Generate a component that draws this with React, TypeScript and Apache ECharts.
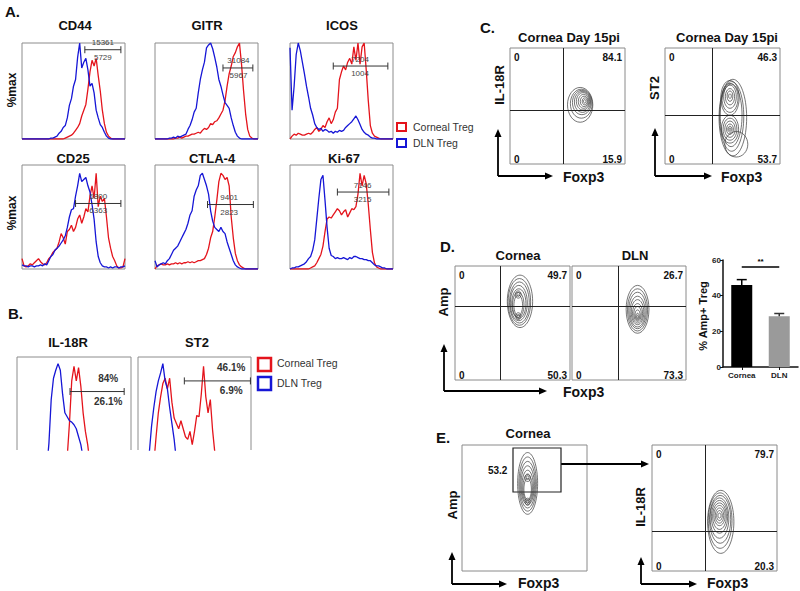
import React, { useEffect, useRef } from "react";
import * as echarts from "echarts";

// ---------- DATA ----------
const bins = [0,2,4,6,8,10,12,14,16,18,20,22,24,26,28,30,32,34,36,38,40,42,44,46,48,50,52,54,56,58,60,62,64,66,68,70,72,74,76,78,80,82,84,86,88,90,92,94,96,98,100];

// Panel A histograms (% of max)
const cd44Corneal = [0,0,0,0,0,0,0,0,0,0,0,0,0,0,0,0,0,0,0,0,0,1,2,3,4,6,9,12,16,24,30,36,52,70,82,76,84,66,50,30,16,7,3,1,0,0,0,0,0,0,0];
const cd44DLN = [0,0,0,0,0,0,0,0,0,0,0,0,0,0,1,1,2,3,6,8,12,14,22,35,42,55,62,85,100,74,80,84,72,55,58,48,30,22,15,12,7,3,1,0,0,0,0,0,0,0,0];
const gitrCorneal = [0,0,0,0,0,0,0,0,0,0,1,1,2,1,2,3,3,4,5,5,6,7,6,9,11,10,12,16,15,18,19,22,26,30,40,55,68,76,86,90,96,100,78,50,26,10,3,1,0,0,0];
const gitrDLN = [0,0,0,0,0,0,0,1,1,2,1,3,2,3,4,5,10,14,20,28,32,48,62,72,80,95,98,100,94,85,75,62,55,46,38,35,32,22,14,7,3,1,0,0,0,0,0,0,0,0,0];
const icosCorneal = [0,3,5,4,6,5,4,4,5,6,5,7,10,12,8,10,14,12,18,22,16,20,28,32,62,70,76,72,80,84,78,96,82,100,78,96,100,72,40,14,6,3,2,1,0,0,0,0,0,0,0];
const icosDLN = [95,30,55,88,100,92,80,68,55,44,32,25,16,12,10,11,8,10,9,7,8,6,8,7,9,8,9,12,14,16,18,21,24,20,15,10,7,5,4,2,1,1,0,0,0,0,0,0,0,0,0];
const cd25Corneal = [10,3,2,3,5,4,6,8,10,7,5,4,6,10,12,16,18,20,26,34,30,24,36,38,42,36,40,48,52,44,50,58,55,70,80,68,92,60,70,65,68,50,30,20,12,8,3,1,1,2,10];
const cd25DLN = [4,3,3,2,3,3,2,3,3,4,3,5,4,8,12,14,18,20,22,25,28,32,40,50,57,58,70,80,92,84,86,88,80,74,62,48,26,12,6,3,2,2,1,2,1,2,2,1,2,2,3];
const ctla4Corneal = [0,3,4,5,4,4,5,4,5,5,6,5,6,5,6,6,7,6,7,6,7,8,8,9,10,14,20,30,36,50,66,84,92,90,86,88,80,50,30,15,8,4,2,1,0,0,0,0,0,0,0];
const ctla4DLN = [8,2,4,5,6,5,8,10,14,18,20,22,26,30,34,38,44,52,56,70,76,80,90,92,86,80,72,56,46,40,38,36,40,36,34,26,20,14,8,4,2,1,0,0,0,0,0,0,0,0,0];
const ki67Corneal = [0,0,0,0,0,0,0,0,0,0,1,2,3,6,10,14,22,36,48,50,49,52,55,58,56,52,55,57,50,54,58,57,60,72,92,80,90,82,62,38,16,6,2,1,0,0,0,0,0,0,0];
const ki67DLN = [0,1,1,2,2,3,4,5,7,10,12,18,28,48,68,86,90,66,40,20,13,12,10,11,10,10,11,10,9,11,10,12,12,11,10,10,9,9,8,8,6,4,3,3,2,1,1,0,0,0,0];

// Panel B histograms
const il18rCorneal = [0,0,0,0,0,0,0,0,0,0,0,0,0,0,0,0,0,0,0,0,0,10,24,50,82,93,82,92,78,58,44,34,20,6,0,0,0,0,0,0,0,0,0,0,0,0,0,0,0,0,0];
const il18rDLN = [0,0,0,0,0,0,0,0,0,0,0,0,0,15,35,68,84,90,95,90,72,58,55,52,51,49,46,40,34,24,12,4,0,0,0,0,0,0,0,0,0,0,0,0,0,0,0,0,0,0,0];
const st2Corneal = [0,0,0,0,0,0,0,20,40,58,70,80,84,76,84,66,54,50,46,52,46,40,38,44,34,44,56,55,72,93,70,58,68,45,28,12,0,0,0,0,0,0,0,0,0,0,0,0,0,0,0];
const st2DLN = [0,0,0,0,12,28,48,62,74,82,88,95,82,76,62,50,38,22,8,0,0,0,0,0,0,0,0,0,0,0,0,0,0,0,0,0,0,0,0,0,0,0,0,0,0,0,0,0,0,0,0];

// Gates: [start, end, level, label position]
const cd44Gate = [61, 96, 93, 78.5];
const gitrGate = [66, 95, 74, 81];
const icosGate = [42, 95, 76, 68];
const cd25Gate = [52, 96, 63, 74];
const ctla4Gate = [51, 95.5, 62, 72];
const ki67Gate = [46, 96, 74, 70.5];
const il18rGate = [46.5, 94, 74, 80];
const st2Gate = [41, 99.5, 82, 82.5];

const cd44Labels = ["15361", "5729"];
const gitrLabels = ["31084", "5967"];
const icosLabels = ["7204", "1004"];
const cd25Labels = ["6800", "6363"];
const ctla4Labels = ["9401", "2823"];
const ki67Labels = ["7146", "3215"];
const il18rLabels = ["84%", "26.1%"];
const st2Labels = ["46.1%", "6.9%"];

// Contour levels: [centerX, centerY, radiusX, radiusY]
const contourC1 = [[61,51,11,15],[62,52,9.5,12.5],[62.5,53,8.2,10.5],[63,53.5,7,9],[63.5,54,5.8,7.5],[64,54,4.6,6],[64.5,54,3.4,4.5],[65,54,2.2,3],[65,54,1.1,1.5]];
const contourC2 = [[59,40,12,33],[58,41,10.5,30],[57.5,42,9.5,27],[56.5,57,8,15],[56.5,57,7,12.5],[56.5,58,5.5,10],[56.5,58,4,7],[56.5,58.5,2.5,4.5],[56.5,58.5,1.2,2],[56.5,30,7.5,12],[56.5,30,6,9.5],[56.5,30,4.5,7],[56.5,30,3,4.5],[56.5,30,1.8,2.5],[56.5,30,0.9,1.2],[62,17,10,11]];
const contourDCornea = [[56.5,69,11,23],[56,68.5,9.8,20.5],[56,68,8.6,18],[55.5,67.5,7.4,15.5],[55.5,67,6.2,13],[55,66,5,11],[55,65.5,3.8,9],[55,75,2.5,3.2],[55,75,1.3,1.7],[55,56,2.3,3],[55,56,1.2,1.5]];
const contourDDLN = [[57.5,62,10,21],[57.5,61.5,8.8,18.5],[57.5,61,7.7,16],[57.5,60,6.6,13.5],[57.5,59.5,5.5,11],[57.5,58.5,4.4,8.5],[57.5,58,3.3,6.5],[57.5,57,2.3,4.5],[57.5,56,1.4,2.6],[57.5,55.5,0.7,1.3]];
const contourECornea = [[52.5,69.5,8,24.5],[52.5,69,7,21.5],[52.5,68.5,6.2,18.5],[52.5,68,5.4,15.5],[52.5,67,4.6,13],[52.5,66,3.8,10.5],[52.5,65,3,8.5],[52.5,74,2.2,3],[52.5,74,1.1,1.5],[52.5,55,2,2.8],[52.5,55,1,1.3]];
const contourEIL18R = [[55,39,10.5,25],[54.5,40,9.5,22],[54.5,41,8.5,19],[54,42,7.5,16],[54,43,6.5,13],[54,43.5,5.5,10.5],[54,44,4.5,8],[54,44,3.4,6],[54,44,2.3,4],[54,44,1.2,2]];

// Quadrant gates [x, y]
const quadC1 = [46, 46];
const quadC2 = [41, 42];
const quadDCornea = [39, 65];
const quadDDLN = [40.5, 65];
const quadEIL18R = [42.4, 31.7];
const gateECornea = [40.8, 62.7, 79.2, 97.6];
const gateECorneaLabel = "53.2";

// Quadrant percentages [UL, UR, LL, LR]
const pctC1 = ["0", "84.1", "0", "15.9"];
const pctC2 = ["0", "46.3", "0", "53.7"];
const pctDCornea = ["0", "49.7", "0", "50.3"];
const pctDDLN = ["0", "26.7", "0", "73.3"];
const pctEIL18R = ["0", "79.7", "0", "20.3"];

// Bar chart
const barCategories = ["Cornea", "DLN"];
const barValues = [46, 28.5];
const barErrors = [3, 1.5];
const barSigLevel = 56;
const barTicks = [0, 20, 40, 60];

// ---------- STYLE ----------
const RED = "#e4141c";
const BLUE = "#1616d6";
const FF = '"Liberation Sans", Arial, sans-serif';
const font = (size: number, bold = true) => `${bold ? "bold " : ""}${size}px ${FF}`;

type Rect = { left: number; top: number; width: number; height: number };

function txt(text: string, x: number, y: number, size: number, opts: any = {}) {
  const align = opts.align || "center";
  return {
    type: "text",
    x,
    y,
    rotation: opts.rot ? Math.PI / 2 : 0,
    silent: true,
    style: {
      text,
      font: font(size, opts.bold !== false),
      fill: opts.color || "#111",
      align,
      verticalAlign: "middle",
      textAlign: align,
      textVerticalAlign: "middle",
    },
  };
}

function arrowUp(x: number, y0: number, y1: number) {
  return [
    { type: "line", silent: true, shape: { x1: x, y1: y0, x2: x, y2: y1 + 6 }, style: { stroke: "#000", lineWidth: 1.8 } },
    { type: "polygon", silent: true, shape: { points: [[x, y1], [x - 3.5, y1 + 8], [x + 3.5, y1 + 8]] }, style: { fill: "#000" } },
  ];
}
function arrowRight(y: number, x0: number, x1: number) {
  return [
    { type: "line", silent: true, shape: { x1: x0, y1: y, x2: x1 - 6, y2: y }, style: { stroke: "#000", lineWidth: 1.8 } },
    { type: "polygon", silent: true, shape: { points: [[x1, y], [x1 - 8, y - 3.5], [x1 - 8, y + 3.5]] }, style: { fill: "#000" } },
  ];
}

function buildOption() {
  const grids: any[] = [];
  const xAxes: any[] = [];
  const yAxes: any[] = [];
  const series: any[] = [];
  const graphics: any[] = [];

  const addGrid = (r: Rect, show: boolean, border: string, ymin = 0) => {
    const i = grids.length;
    grids.push({ ...r, show, borderColor: border, borderWidth: 1, backgroundColor: "transparent" });
    xAxes.push({ gridIndex: i, type: "value", min: 0, max: 100, show: false });
    yAxes.push({ gridIndex: i, type: "value", min: ymin, max: 100, show: false });
    return i;
  };

  const gateRender = (labels: string[], up: number, down: number, f: string, color: string) =>
    (params: any, api: any) => {
      const y = api.value(2);
      const a = api.coord([api.value(0), y]);
      const b = api.coord([api.value(1), y]);
      const c = api.coord([api.value(3), y]);
      const ls = { stroke: "#333", lineWidth: 1 };
      const ts = (t: string) => ({ text: t, font: f, fill: color, align: "center", verticalAlign: "middle", textAlign: "center", textVerticalAlign: "middle" });
      return {
        type: "group",
        children: [
          { type: "line", shape: { x1: a[0], y1: a[1], x2: b[0], y2: b[1] }, style: ls },
          { type: "line", shape: { x1: a[0], y1: a[1] - 3.5, x2: a[0], y2: a[1] + 3.5 }, style: ls },
          { type: "line", shape: { x1: b[0], y1: b[1] - 3.5, x2: b[0], y2: b[1] + 3.5 }, style: ls },
          { type: "text", x: c[0], y: c[1] - up, style: ts(labels[0]) },
          { type: "text", x: c[0], y: c[1] + down, style: ts(labels[1]) },
        ],
      };
    };

  const addHist = (r: Rect, corneal: number[], dln: number[], gate: number[], labels: string[], small: boolean, ymin = 0) => {
    const i = addGrid(r, ymin === 0, "#8c8c8c", ymin);
    const mk = (arr: number[], color: string) => ({
      type: "line", xAxisIndex: i, yAxisIndex: i, silent: true, clip: true,
      data: bins.map((b, k) => [b, arr[k]]),
      showSymbol: false, symbol: "none",
      lineStyle: { color, width: 1.3 },
    });
    series.push(mk(corneal, RED));
    series.push(mk(dln, BLUE));
    series.push({
      type: "custom", xAxisIndex: i, yAxisIndex: i, silent: true, z: 5,
      data: [gate],
      renderItem: small ? gateRender(labels, 7, 7.5, font(8, false), "#444") : gateRender(labels, 13, 10, font(10), "#333"),
    });
    if (ymin !== 0) {
      const x0 = r.left, x1 = r.left + r.width, y0 = r.top, y1 = r.top + r.height;
      graphics.push({ type: "polyline", silent: true, shape: { points: [[x0, y1], [x0, y0], [x1, y0], [x1, y1]] }, style: { stroke: "#8c8c8c", lineWidth: 1, fill: "none" } });
    }
  };

  const contourRender = (params: any, api: any) => {
    const c = api.coord([api.value(0), api.value(1)]);
    const s = api.size([api.value(2), api.value(3)]);
    return { type: "ellipse", shape: { cx: c[0], cy: c[1], rx: s[0], ry: s[1] }, style: { fill: "none", stroke: "#3a3a3a", lineWidth: 0.7 } };
  };

  const addContour = (r: Rect, levels: number[][], quad: number[] | null, pct: string[] | null, extra: any = {}) => {
    const i = addGrid(r, true, "#8a8a8a");
    const s: any = {
      type: "custom", xAxisIndex: i, yAxisIndex: i, silent: true,
      data: levels, renderItem: contourRender, ...extra,
    };
    if (quad) {
      s.markLine = {
        silent: true, symbol: ["none", "none"], label: { show: false }, animation: false,
        lineStyle: { color: "#222", width: 1, type: "solid" },
        data: [{ xAxis: quad[0] }, { yAxis: quad[1] }],
      };
    }
    series.push(s);
    if (pct) {
      const l = r.left + 4, rr = r.left + r.width - 3, t = r.top + 9, b = r.top + r.height - 5;
      graphics.push(txt(pct[0], l, t, 10, { align: "left" }));
      graphics.push(txt(pct[1], rr, t, 10, { align: "right" }));
      graphics.push(txt(pct[2], l, b, 10, { align: "left" }));
      graphics.push(txt(pct[3], rr, b, 10, { align: "right" }));
    }
  };

  // ---- Panel A ----
  addHist({ left: 22, top: 43, width: 103, height: 96 }, cd44Corneal, cd44DLN, cd44Gate, cd44Labels, true);
  addHist({ left: 155, top: 43, width: 103, height: 96 }, gitrCorneal, gitrDLN, gitrGate, gitrLabels, true);
  addHist({ left: 290, top: 43, width: 103, height: 96 }, icosCorneal, icosDLN, icosGate, icosLabels, true);
  addHist({ left: 22, top: 165, width: 103, height: 104 }, cd25Corneal, cd25DLN, cd25Gate, cd25Labels, true);
  addHist({ left: 155, top: 165, width: 103, height: 104 }, ctla4Corneal, ctla4DLN, ctla4Gate, ctla4Labels, true);
  addHist({ left: 290, top: 165, width: 103, height: 104 }, ki67Corneal, ki67DLN, ki67Gate, ki67Labels, true);

  graphics.push(txt("A.", 5, 11, 15, { align: "left" }));
  graphics.push(txt("CD44", 75, 25, 13));
  graphics.push(txt("GITR", 207, 25, 13));
  graphics.push(txt("ICOS", 342, 25, 13));
  graphics.push(txt("CD25", 73, 158, 13));
  graphics.push(txt("CTLA-4", 212, 158, 13));
  graphics.push(txt("Ki-67", 344, 158, 13));
  graphics.push(txt("%max", 12, 90, 12, { rot: true }));
  graphics.push(txt("%max", 12, 213, 12, { rot: true }));
  graphics.push({ type: "rect", silent: true, shape: { x: 397, y: 123, width: 9, height: 8 }, style: { fill: "none", stroke: RED, lineWidth: 2 } });
  graphics.push({ type: "rect", silent: true, shape: { x: 397, y: 139, width: 9, height: 8 }, style: { fill: "none", stroke: BLUE, lineWidth: 2 } });
  graphics.push(txt("Corneal Treg", 413, 127, 10.5, { align: "left", bold: false, color: "#333" }));
  graphics.push(txt("DLN Treg", 413, 143, 10.5, { align: "left", bold: false, color: "#333" }));

  // ---- Panel B ----
  addHist({ left: 17, top: 357, width: 114, height: 93 }, il18rCorneal, il18rDLN, il18rGate, il18rLabels, false, 30);
  addHist({ left: 138, top: 357, width: 113, height: 93 }, st2Corneal, st2DLN, st2Gate, st2Labels, false, 30);
  graphics.push(txt("B.", 8, 313, 15, { align: "left" }));
  graphics.push(txt("IL-18R", 68, 342, 13));
  graphics.push(txt("ST2", 197, 342, 13));
  graphics.push({ type: "rect", silent: true, shape: { x: 258, y: 358, width: 13, height: 13 }, style: { fill: "none", stroke: RED, lineWidth: 2.5 } });
  graphics.push({ type: "rect", silent: true, shape: { x: 258, y: 377, width: 13, height: 13 }, style: { fill: "none", stroke: BLUE, lineWidth: 2.5 } });
  graphics.push(txt("Corneal Treg", 277, 363, 10.5, { align: "left", bold: false, color: "#333" }));
  graphics.push(txt("DLN Treg", 277, 383, 10.5, { align: "left", bold: false, color: "#333" }));

  // ---- Panel C ----
  addContour({ left: 510, top: 48, width: 115, height: 116 }, contourC1, quadC1, pctC1);
  addContour({ left: 665, top: 48, width: 115, height: 116 }, contourC2, quadC2, pctC2);
  graphics.push(txt("C.", 480, 27, 15, { align: "left" }));
  graphics.push(txt("Cornea Day 15pi", 569, 37, 13));
  graphics.push(txt("Cornea Day 15pi", 727, 37, 13));
  graphics.push(txt("IL-18R", 499, 85, 13, { rot: true }));
  graphics.push(txt("ST2", 654, 88, 13, { rot: true }));
  graphics.push(...arrowUp(498, 176, 129), ...arrowRight(176, 498, 553));
  graphics.push(...arrowUp(655, 176, 128), ...arrowRight(176, 655, 712));
  graphics.push(txt("Foxp3", 563, 177, 14, { align: "left" }));
  graphics.push(txt("Foxp3", 721, 177, 14, { align: "left" }));

  // ---- Panel D ----
  addContour({ left: 455, top: 266, width: 115, height: 114 }, contourDCornea, quadDCornea, pctDCornea);
  addContour({ left: 572, top: 266, width: 114, height: 114 }, contourDDLN, quadDDLN, pctDDLN);
  graphics.push(txt("D.", 440, 246, 15, { align: "left" }));
  graphics.push(txt("Cornea", 518, 255, 13));
  graphics.push(txt("DLN", 635, 255, 13));
  graphics.push(txt("Amp", 443, 302, 13, { rot: true }));
  graphics.push(...arrowUp(444, 391, 344), ...arrowRight(391, 444, 547));
  graphics.push(txt("Foxp3", 563, 392, 14, { align: "left" }));

  // bar chart
  const bi = grids.length;
  grids.push({ left: 723, top: 260, width: 75, height: 107, show: false });
  xAxes.push({
    gridIndex: bi, type: "category", data: barCategories,
    axisLine: { lineStyle: { color: "#111", width: 1.5 } },
    axisTick: { show: true, alignWithLabel: true, length: 3, lineStyle: { color: "#111" } },
    axisLabel: { fontSize: 8, fontWeight: "bold", color: "#222", margin: 4, fontFamily: FF },
  });
  yAxes.push({
    gridIndex: bi, type: "value", min: barTicks[0], max: barTicks[barTicks.length - 1], interval: barTicks[1] - barTicks[0],
    axisLine: { show: true, lineStyle: { color: "#111", width: 1.5 } },
    axisTick: { show: true, length: 3, lineStyle: { color: "#111" } },
    axisLabel: { fontSize: 8, fontWeight: "bold", color: "#222", margin: 2, fontFamily: FF },
    splitLine: { show: false },
  });
  series.push({
    type: "bar", xAxisIndex: bi, yAxisIndex: bi, silent: true, barWidth: 21,
    data: barValues.map((v, k) => ({ value: v, itemStyle: { color: k === 0 ? "#000" : "#9a9a9a" } })),
    markLine: {
      silent: true, symbol: ["none", "none"], animation: false,
      lineStyle: { color: "#000", width: 1.5, type: "solid" },
      label: { show: true, position: "middle", formatter: "**", fontSize: 8, fontWeight: "bold", color: "#000", distance: 2 },
      data: [[{ coord: [0, barSigLevel] }, { coord: [1, barSigLevel] }]],
    },
  });
  series.push({
    type: "custom", xAxisIndex: bi, yAxisIndex: bi, silent: true, z: 5,
    data: barValues.map((v, k) => [k, v, barErrors[k]]),
    renderItem: (params: any, api: any) => {
      const base = api.coord([api.value(0), api.value(1)]);
      const top = api.coord([api.value(0), api.value(1) + api.value(2)]);
      const color = params.dataIndex === 0 ? "#000" : "#333";
      return {
        type: "group",
        children: [
          { type: "line", shape: { x1: base[0], y1: base[1], x2: top[0], y2: top[1] }, style: { stroke: color, lineWidth: 1.5 } },
          { type: "line", shape: { x1: top[0] - 5, y1: top[1], x2: top[0] + 5, y2: top[1] }, style: { stroke: color, lineWidth: 1.5 } },
        ],
      };
    },
  });
  graphics.push(txt("% Amp+ Treg", 703, 316, 11, { rot: true }));

  // ---- Panel E ----
  addContour({ left: 462, top: 445, width: 125, height: 126 }, contourECornea, null, null, {
    markArea: {
      silent: true, animation: false,
      itemStyle: { color: "rgba(0,0,0,0)", borderColor: "#222", borderWidth: 1.2 },
      label: { show: true, position: "left", formatter: gateECorneaLabel, fontSize: 10, fontWeight: "bold", color: "#111", fontFamily: FF, distance: 5 },
      data: [[{ coord: [gateECornea[0], gateECornea[1]] }, { coord: [gateECornea[2], gateECornea[3]] }]],
    },
  });
  addContour({ left: 652, top: 445, width: 125, height: 126 }, contourEIL18R, quadEIL18R, pctEIL18R);
  graphics.push(txt("E.", 436, 437, 15, { align: "left" }));
  graphics.push(txt("Cornea", 528, 433, 13));
  graphics.push(txt("Amp", 452, 505, 13, { rot: true }));
  graphics.push(txt("IL-18R", 640, 507, 13, { rot: true }));
  graphics.push(...arrowRight(464, 561, 649));
  graphics.push(...arrowUp(452, 584, 552), ...arrowRight(584, 452, 507));
  graphics.push(...arrowUp(641, 584, 557), ...arrowRight(584, 641, 697));
  graphics.push(txt("Foxp3", 518, 583, 14, { align: "left" }));
  graphics.push(txt("Foxp3", 707, 583, 14, { align: "left" }));

  return {
    animation: false,
    backgroundColor: "#fff",
    grid: grids,
    xAxis: xAxes,
    yAxis: yAxes,
    series,
    graphic: graphics,
  };
}

export default function App() {
  const ref = useRef<HTMLDivElement>(null);
  useEffect(() => {
    if (!ref.current) return;
    const chart = echarts.init(ref.current, null, { renderer: "svg" });
    chart.setOption(buildOption() as any);
    return () => chart.dispose();
  }, []);
  return <div ref={ref} style={{ position: "fixed", left: 0, top: 0, width: 800, height: 591, background: "#fff" }} />;
}
